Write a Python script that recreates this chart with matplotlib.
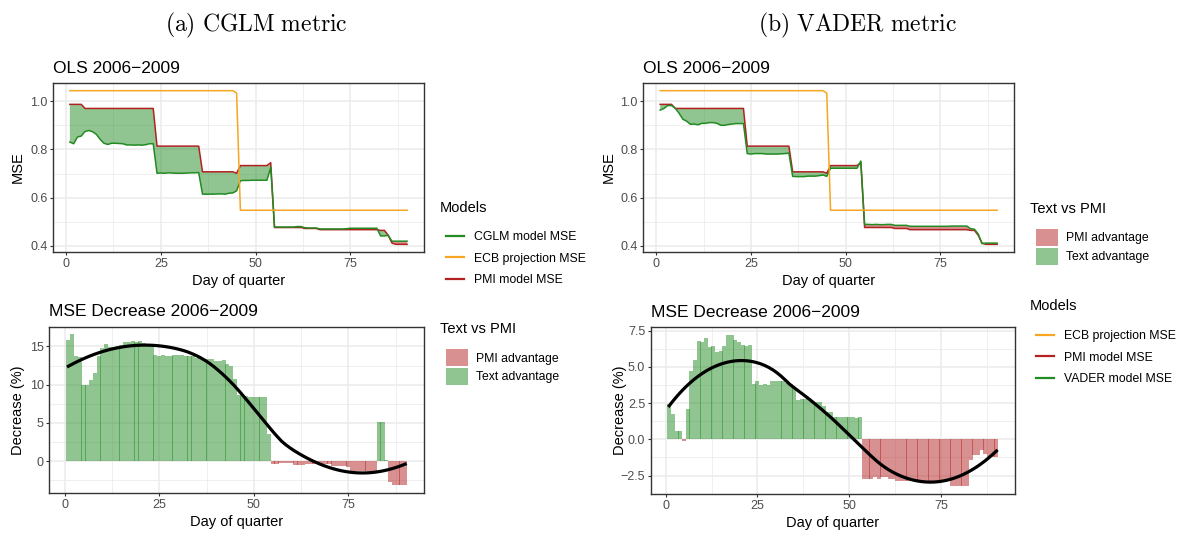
import numpy as np
import matplotlib
matplotlib.use('Agg')
import matplotlib.pyplot as plt
from matplotlib.lines import Line2D
from matplotlib.patches import Patch
from matplotlib.ticker import MultipleLocator, FuncFormatter

plt.rcParams['font.family'] = ['Liberation Sans', 'DejaVu Sans']
plt.rcParams['mathtext.fontset'] = 'cm'

GREEN = '#228B22'
RED = '#B22222'
ORANGE = '#F5A623'

days = np.arange(1, 91)

# ECB projection MSE (shared by both metrics)
ecb_mse = np.array([
    1.045, 1.045, 1.045, 1.045, 1.045, 1.045, 1.045, 1.045, 1.045, 1.045,
    1.045, 1.045, 1.045, 1.045, 1.045, 1.045, 1.045, 1.045, 1.045, 1.045,
    1.045, 1.045, 1.045, 1.045, 1.045, 1.045, 1.045, 1.045, 1.045, 1.045,
    1.045, 1.045, 1.045, 1.045, 1.045, 1.045, 1.045, 1.045, 1.045, 1.045,
    1.045, 1.045, 1.045, 1.045, 1.035, 0.547, 0.547, 0.547, 0.547, 0.547,
    0.547, 0.547, 0.547, 0.547, 0.547, 0.547, 0.547, 0.547, 0.547, 0.547,
    0.547, 0.547, 0.547, 0.547, 0.547, 0.547, 0.547, 0.547, 0.547, 0.547,
    0.547, 0.547, 0.547, 0.547, 0.547, 0.547, 0.547, 0.547, 0.547, 0.547,
    0.547, 0.547, 0.547, 0.547, 0.547, 0.547, 0.547, 0.547, 0.547, 0.547,
])

# PMI model MSE (shared by both metrics)
pmi_mse = np.array([
    0.988, 0.988, 0.988, 0.988, 0.971, 0.971, 0.971, 0.971, 0.971, 0.971,
    0.971, 0.971, 0.971, 0.971, 0.971, 0.971, 0.971, 0.971, 0.971, 0.971,
    0.971, 0.971, 0.971, 0.814, 0.814, 0.814, 0.814, 0.814, 0.814, 0.814,
    0.814, 0.814, 0.814, 0.814, 0.814, 0.707, 0.707, 0.707, 0.707, 0.707,
    0.707, 0.707, 0.707, 0.707, 0.701, 0.733, 0.733, 0.733, 0.733, 0.733,
    0.733, 0.733, 0.733, 0.745, 0.475, 0.475, 0.475, 0.475, 0.475, 0.475,
    0.475, 0.475, 0.471, 0.471, 0.471, 0.471, 0.466, 0.466, 0.466, 0.466,
    0.466, 0.466, 0.466, 0.466, 0.466, 0.466, 0.466, 0.466, 0.466, 0.466,
    0.466, 0.466, 0.463, 0.463, 0.443, 0.410, 0.405, 0.405, 0.405, 0.405,
])

cglm_mse = np.array([
    0.831, 0.824, 0.852, 0.856, 0.875, 0.879, 0.874, 0.863, 0.842, 0.826,
    0.821, 0.826, 0.826, 0.825, 0.824, 0.819, 0.819, 0.818, 0.819, 0.818,
    0.820, 0.824, 0.824, 0.701, 0.702, 0.701, 0.703, 0.702, 0.701, 0.701,
    0.701, 0.702, 0.703, 0.703, 0.704, 0.614, 0.614, 0.614, 0.614, 0.615,
    0.615, 0.614, 0.618, 0.619, 0.628, 0.670, 0.671, 0.671, 0.672, 0.672,
    0.672, 0.672, 0.672, 0.725, 0.477, 0.477, 0.477, 0.477, 0.477, 0.477,
    0.479, 0.479, 0.474, 0.473, 0.473, 0.473, 0.469, 0.469, 0.469, 0.469,
    0.469, 0.469, 0.469, 0.470, 0.472, 0.472, 0.472, 0.472, 0.472, 0.472,
    0.472, 0.472, 0.440, 0.440, 0.442, 0.418, 0.418, 0.418, 0.418, 0.418,
])

vader_mse = np.array([
    0.964, 0.971, 0.983, 0.983, 0.972, 0.951, 0.926, 0.918, 0.905, 0.906,
    0.903, 0.909, 0.909, 0.912, 0.912, 0.909, 0.901, 0.901, 0.904, 0.906,
    0.908, 0.908, 0.908, 0.783, 0.781, 0.783, 0.783, 0.783, 0.781, 0.781,
    0.781, 0.781, 0.782, 0.783, 0.785, 0.688, 0.687, 0.687, 0.687, 0.689,
    0.689, 0.689, 0.691, 0.694, 0.688, 0.722, 0.722, 0.722, 0.722, 0.722,
    0.722, 0.722, 0.722, 0.752, 0.488, 0.488, 0.487, 0.488, 0.487, 0.487,
    0.488, 0.488, 0.484, 0.484, 0.484, 0.484, 0.480, 0.480, 0.480, 0.480,
    0.480, 0.480, 0.480, 0.480, 0.480, 0.480, 0.480, 0.481, 0.481, 0.481,
    0.481, 0.481, 0.470, 0.468, 0.448, 0.408, 0.410, 0.410, 0.410, 0.410,
])

# MSE decrease (%) of text model vs PMI model
cglm_dec = np.array([
    15.9, 16.6, 13.8, 13.6, 9.9, 10.0, 10.6, 11.5, 13.7, 14.8,
    15.3, 14.9, 14.9, 15.1, 15.2, 15.6, 15.6, 15.7, 15.6, 15.7,
    15.5, 15.2, 15.2, 13.9, 13.8, 13.9, 13.7, 13.8, 13.9, 13.9,
    13.9, 13.8, 13.7, 13.7, 13.5, 13.3, 13.2, 13.3, 13.3, 13.1,
    13.1, 13.2, 12.7, 12.5, 10.7, 8.6, 8.5, 8.5, 8.4, 8.4,
    8.4, 8.4, 8.4, 3.6, -0.35, -0.35, -0.3, -0.3, -0.3, -0.3,
    -0.55, -0.55, -0.55, -0.35, -0.35, -0.35, -0.4, -0.4, -0.4, -0.4,
    -0.6, -0.6, -0.6, -0.7, -0.8, -1.3, -1.3, -1.3, -1.3, -1.3,
    -1.3, -1.3, 5.1, 5.1, 0.1, -2.8, -3.2, -3.2, -3.2, -3.2,
])

vader_dec = np.array([
    2.4, 1.75, 0.55, 0.55, -0.12, 2.1, 4.7, 5.5, 6.75, 6.7,
    7.0, 6.35, 6.4, 6.05, 6.1, 6.4, 7.2, 7.2, 6.85, 6.7,
    6.5, 6.45, 6.5, 3.8, 4.0, 3.75, 3.8, 3.75, 4.0, 4.0,
    4.0, 4.0, 3.9, 3.8, 3.6, 2.7, 2.8, 2.8, 2.85, 2.6,
    2.6, 2.6, 2.3, 1.85, 1.85, 1.55, 1.55, 1.55, 1.55, 1.55,
    1.55, 1.5, 1.55, -2.75, -2.75, -2.75, -2.6, -2.75, -2.6, -2.6,
    -2.75, -2.75, -2.85, -2.85, -2.85, -2.85, -2.85, -2.85, -2.85, -2.85,
    -2.85, -2.85, -2.85, -2.85, -2.85, -2.85, -2.85, -3.25, -3.25, -3.25,
    -3.25, -3.25, -1.45, -1.1, -1.1, -0.75, -1.0, -1.25, -1.25, -1.25,
])


def loess(x, y, xs, span=0.75):
    # local quadratic fit with tricube weights (like R's loess)
    n = len(x)
    q = int(np.floor(n * span))
    fit = []
    for x0 in xs:
        d = np.abs(x - x0)
        h = np.sort(d)[q - 1]
        w = np.clip(1 - (d / h) ** 3, 0, None) ** 3
        X = np.vstack([np.ones(n), x - x0, (x - x0) ** 2]).T
        sw = np.sqrt(w)
        beta = np.linalg.lstsq(X * sw[:, None], y * sw, rcond=None)[0]
        fit.append(beta[0])
    return np.array(fit)


def style(ax, ymajor, fmt):
    ax.set_axisbelow(True)
    ax.xaxis.set_major_locator(MultipleLocator(25))
    ax.xaxis.set_minor_locator(MultipleLocator(12.5))
    ax.yaxis.set_major_locator(MultipleLocator(ymajor))
    ax.yaxis.set_minor_locator(MultipleLocator(ymajor / 2))
    ax.yaxis.set_major_formatter(FuncFormatter(lambda v, p: fmt.format(v).replace('-', '\u2212')))
    ax.grid(which='major', color='#EBEBEB', lw=1.1)
    ax.grid(which='minor', color='#EBEBEB', lw=0.55)
    for s in ax.spines.values():
        s.set_color('#333333')
        s.set_linewidth(1.0)
    ax.tick_params(which='major', length=2.5, width=0.8, color='#333333',
                   labelcolor='#4D4D4D', labelsize=9, pad=1.5)
    ax.tick_params(which='minor', length=0)
    ax.set_xlabel('Day of quarter', fontsize=10.5, labelpad=3)
    ax.margins(x=0.05, y=0.05)


def draw_mse(ax, text_mse):
    ax.fill_between(days, text_mse, pmi_mse, where=text_mse <= pmi_mse, interpolate=True,
                    color=GREEN, alpha=0.5, lw=0)
    ax.fill_between(days, text_mse, pmi_mse, where=text_mse >= pmi_mse, interpolate=True,
                    color=RED, alpha=0.5, lw=0)
    ax.plot(days, pmi_mse, color=RED, lw=1.1)
    ax.plot(days, text_mse, color=GREEN, lw=1.1)
    ax.plot(days, ecb_mse, color=ORANGE, lw=1.1)
    style(ax, 0.2, '{:.1f}')
    ax.set_title('OLS 2006\u22122009', loc='left', fontsize=12.5, pad=7.5)
    ax.set_ylabel('MSE', fontsize=10.5)
    ax.yaxis.set_label_coords(-0.075, 0.5)


def draw_dec(ax, dec, fmt):
    pos = dec >= 0
    ax.bar(days[pos], dec[pos], width=1.08, color=GREEN, alpha=0.5, lw=0)
    ax.bar(days[~pos], dec[~pos], width=1.08, color=RED, alpha=0.5, lw=0)
    xs = np.linspace(days.min(), days.max(), 80)
    ax.plot(xs, loess(days.astype(float), dec, xs), color='black', lw=2.3)
    style(ax, 5 if fmt == '{:.0f}' else 2.5, fmt)
    ax.set_title('MSE Decrease 2006\u22122009', loc='left', fontsize=12.5, pad=7.5)
    ax.set_ylabel('Decrease (%)', fontsize=10.5)
    ax.yaxis.set_label_coords(-0.065, 0.5)


W, H = 1177, 533
fig = plt.figure(figsize=(W / 100, H / 100), dpi=100)


def px_axes(x0, x1, top, bottom):
    return fig.add_axes([x0 / W, 1 - bottom / H, (x1 - x0) / W, (bottom - top) / H])


ax_a1 = px_axes(53, 424, 83, 252)
ax_a2 = px_axes(49.3, 424.3, 326.7, 493)
ax_b1 = px_axes(643.3, 1014, 83, 252)
ax_b2 = px_axes(650.7, 1015, 327.3, 494)

draw_mse(ax_a1, cglm_mse)
draw_dec(ax_a2, cglm_dec, '{:.0f}')
draw_mse(ax_b1, vader_mse)
draw_dec(ax_b2, vader_dec, '{:.1f}')

fig.text(256 / W, 1 - 25 / H, r'$\mathrm{(a)\ CGLM\ metric}$', fontsize=17, ha='center', va='center')
fig.text(857 / W, 1 - 25 / H, r'$\mathrm{(b)\ VADER\ metric}$', fontsize=17, ha='center', va='center')

line_kw = dict(loc='upper left', bbox_transform=fig.transFigure, frameon=False, fontsize=8.8,
               borderpad=0, handlelength=1.5, handletextpad=0.8, labelspacing=0.78)
patch_kw = dict(loc='upper left', bbox_transform=fig.transFigure, frameon=False, fontsize=8.8,
                borderpad=0, handlelength=1.78, handleheight=1.78, handletextpad=0.7, labelspacing=0.13)

patches = [Patch(color=RED, alpha=0.5, lw=0), Patch(color=GREEN, alpha=0.5, lw=0)]
patch_labels = ['PMI advantage', 'Text advantage']


def models_legend(x, title_base, top, first, first_col):
    names = [first, 'ECB projection MSE', 'PMI model MSE']
    cols = [first_col, ORANGE, RED]
    if first.startswith('VADER'):
        names = ['ECB projection MSE', 'PMI model MSE', first]
        cols = [ORANGE, RED, GREEN]
    handles = [Line2D([], [], color=c, lw=1.6) for c in cols]
    fig.text(x / W, 1 - title_base / H, 'Models', fontsize=10.5, va='baseline')
    fig.legend(handles, names, bbox_to_anchor=(x / W, 1 - top / H), **line_kw)


def text_legend(x, title_base, top):
    fig.text(x / W, 1 - title_base / H, 'Text vs PMI', fontsize=10.5, va='baseline')
    fig.legend(patches, patch_labels, bbox_to_anchor=(x / W, 1 - top / H), **patch_kw)


models_legend(440, 212, 225, 'CGLM model MSE', GREEN)
text_legend(440, 333, 343)
text_legend(1030, 213, 222.7)
models_legend(1030, 310.5, 324, 'VADER model MSE', GREEN)

fig.savefig('out.png', dpi=100)
